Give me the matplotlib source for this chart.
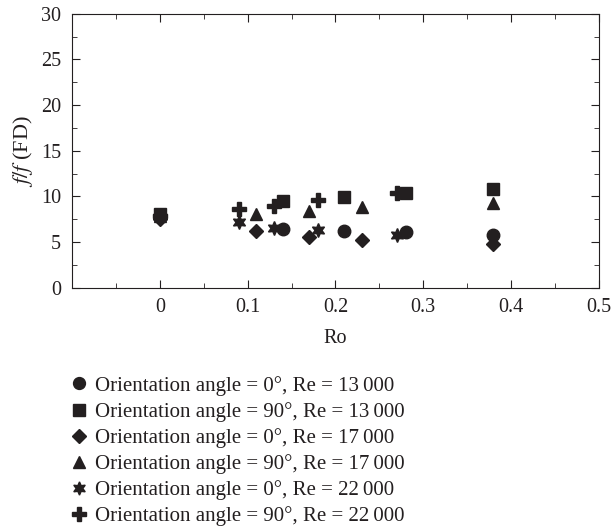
import matplotlib
matplotlib.use("Agg")
import matplotlib.pyplot as plt
from matplotlib.ticker import MultipleLocator

plt.rcParams['font.family'] = ['Liberation Serif', 'DejaVu Serif']
plt.rcParams['mathtext.fontset'] = 'stix'

# Ro values and f/f(FD) for each series
ro_13000 = [0.0, 0.14, 0.21, 0.28, 0.38]
ro_17000 = [0.0, 0.11, 0.17, 0.23, 0.38]
ro_22000 = [0.0, 0.09, 0.13, 0.18, 0.27]

f_0_13000 = [8.0, 6.45, 6.25, 6.15, 5.8]
f_90_13000 = [8.1, 9.45, 9.9, 10.35, 10.8]
f_0_17000 = [7.5, 6.2, 5.6, 5.2, 4.85]
f_90_17000 = [7.9, 8.05, 8.45, 8.9, 9.3]
f_0_22000 = [7.8, 7.2, 6.6, 6.35, 5.8]
f_90_22000 = [7.9, 8.65, 9.0, 9.65, 10.35]

labels = [
    "Orientation angle = 0°, Re = 13\u2009000",
    "Orientation angle = 90°, Re = 13\u2009000",
    "Orientation angle = 0°, Re = 17\u2009000",
    "Orientation angle = 90°, Re = 17\u2009000",
    "Orientation angle = 0°, Re = 22\u2009000",
    "Orientation angle = 90°, Re = 22\u2009000",
]

series = [
    (ro_13000, f_0_13000, 'o', 9, 3),
    (ro_13000, f_90_13000, 's', 9, 5),
    (ro_17000, f_0_17000, 'D', 7, 2),
    (ro_17000, f_90_17000, '^', 9, 3),
    (ro_22000, f_0_22000, (6, 1, 0), 10, 3),
    (ro_22000, f_90_22000, 'P', 10, 3),
]

fig = plt.figure(figsize=(6.11, 5.31), dpi=100)
ax = fig.add_axes([0.118, 0.458, 0.862, 0.516])

handles = []
for (x, y, m, ms, z), lab in zip(series, labels):
    h, = ax.plot(x, y, linestyle='none', marker=m, markersize=ms,
                 color='#231f20', label=lab, zorder=z)
    handles.append(h)

ax.set_xlim(-0.1, 0.5)
ax.set_ylim(0, 30)
ax.xaxis.set_minor_locator(MultipleLocator(0.05))
ax.yaxis.set_major_locator(MultipleLocator(5))
ax.yaxis.set_minor_locator(MultipleLocator(2.5))
ax.set_xticks([0, 0.1, 0.2, 0.3, 0.4, 0.5])
ax.set_xticklabels(['0', '0.1', '0.2', '0.3', '0.4', '0.5'])
ax.tick_params(which='both', direction='in', top=True, right=True,
               labelsize=14.5, colors='#231f20')
ax.tick_params(axis='y', pad=8)
ax.tick_params(axis='x', pad=7)
ax.tick_params(which='major', length=6)
ax.tick_params(which='minor', length=3.5)
for s in ax.spines.values():
    s.set_color('#231f20')

ax.set_xlabel('Ro', fontsize=14.5, labelpad=9, color='#231f20')
ax.set_ylabel(r'$f/f$ (FD)', fontsize=16, labelpad=4, color='#231f20')

leg = fig.legend(handles=handles, labels=labels, loc='upper left',
                 bbox_to_anchor=(0.1, 0.308), frameon=False, fontsize=15,
                 handlelength=0.9, handletextpad=0.35, labelspacing=0.3,
                 borderaxespad=0, markerscale=0.95)
for t in leg.get_texts():
    t.set_color('#231f20')

fig.savefig('out.png', dpi=100)
